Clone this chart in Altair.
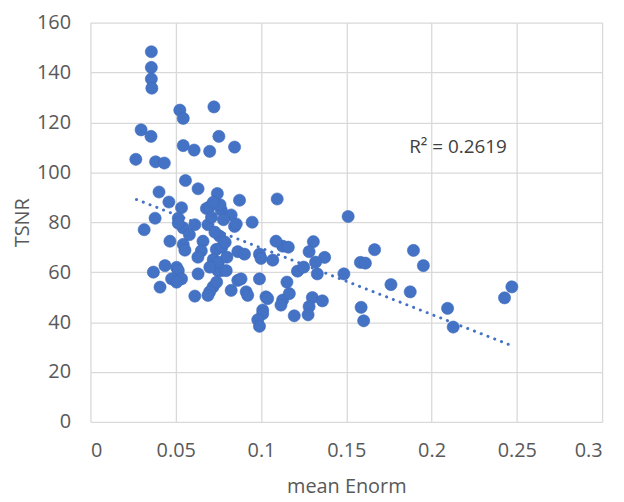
import altair as alt
import pandas as pd

enorm = [0.0357, 0.0357, 0.0357, 0.036, 0.0524, 0.0544, 0.0724, 0.0297, 0.0355, 0.0544, 0.0608, 0.0699,
         0.0753, 0.0845, 0.0266, 0.0382, 0.0433, 0.0557, 0.0631, 0.0402, 0.0744, 0.0874, 0.1095, 0.046,
         0.0534, 0.068, 0.0767, 0.0699, 0.0825, 0.0379, 0.0515, 0.0315, 0.0544, 0.0515, 0.0948, 0.0612,
         0.0689, 0.0845, 0.0855, 0.0466, 0.0544, 0.0554, 0.066, 0.0758, 0.0738, 0.065, 0.0864, 0.0903,
         0.0991, 0.1069, 0.1127, 0.1088, 0.0369, 0.0437, 0.0505, 0.0515, 0.0476, 0.0534, 0.0505, 0.0408,
         0.0767, 0.0631, 0.0748, 0.0796, 0.0864, 0.0883, 0.0991, 0.0719, 0.0825, 0.0913, 0.0699, 0.0612,
         0.0689, 0.0922, 0.1029, 0.1039, 0.1127, 0.101, 0.101, 0.0981, 0.0991,
         0.072, 0.075, 0.073, 0.078, 0.071, 0.077, 0.074, 0.08, 0.079, 0.063, 0.058, 0.07, 0.076, 0.072,
         0.1511, 0.116, 0.1307, 0.1282, 0.1373, 0.1666, 0.1894, 0.1952, 0.1583, 0.1612, 0.1214, 0.133,
         0.1486, 0.1152, 0.1762, 0.1875, 0.1166, 0.1301, 0.136, 0.1117, 0.1282, 0.1587, 0.2094, 0.1195,
         0.1276, 0.1602, 0.2127, 0.2428, 0.2471, 0.1, 0.125, 0.132]
tsnr = [148.3, 142, 137.4, 133.7, 124.9, 121.6, 126.2, 117, 114.4, 110.7, 108.9, 108.4,
        114.4, 110.1, 105.2, 104.2, 103.7, 96.7, 93.4, 92.1, 91.5, 88.8, 89.3, 88.1,
        85.8, 85.5, 84.9, 86.2, 82.9, 81.6, 81.6, 77, 77.7, 79.6, 80, 79,
        79, 78.3, 79.3, 72.4, 71.1, 68.8, 72.4, 74.4, 69.1, 68.5, 68.2, 67.2,
        67.2, 64.8, 70.4, 72.4, 60, 62.6, 61.9, 60.6, 57.3, 57.3, 56, 54,
        60.6, 59.3, 60.6, 60.6, 56.7, 57.3, 57.3, 54.1, 52.7, 52.1, 52.1, 50.4,
        50.7, 50.7, 50.1, 49.4, 48.8, 44.8, 43.3, 40.9, 38.3,
        65, 64, 76, 81, 82, 70, 56, 66, 72, 66, 75, 62, 87, 88,
        82.3, 70, 72.2, 68.2, 65.9, 69, 68.7, 62.6, 63.9, 63.6, 60.4, 59.3,
        59.3, 56, 55, 52.1, 51.4, 49.8, 48.5, 46.8, 46.2, 45.9, 45.5, 42.5,
        42.9, 40.5, 38, 49.7, 54.1, 65.5, 62, 64]

x_ticks = [0, 0.05, 0.1, 0.15, 0.2, 0.25, 0.3]
y_ticks = [0, 20, 40, 60, 80, 100, 120, 140, 160]
trend_extent = [0.027, 0.247]
r2_label = ["R² = 0.2619"]
r2_pos_x = [0.2155]
r2_pos_y = [110.0]

df = pd.DataFrame({"x": enorm, "y": tsnr})
lab = pd.DataFrame({"x": r2_pos_x, "y": r2_pos_y, "t": r2_label})

FONT = "Open Sans"
GREY = "#595959"
BLUE = "#4472C4"

xs = alt.Scale(domain=[0, 0.3], nice=False)
ys = alt.Scale(domain=[0, 160], nice=False)

xax = alt.Axis(values=x_ticks, format="~g", title="mean Enorm", grid=True, domain=False, ticks=False,
               labelPadding=19, titlePadding=16, labelFontSize=20, titleFontSize=20,
               labelColor=GREY, titleColor=GREY, labelFont=FONT, titleFont=FONT,
               titleFontWeight="normal", gridColor="#d9d9d9", gridWidth=1.3)
yax = alt.Axis(values=y_ticks, title="TSNR", grid=True, domain=False, ticks=False,
               labelPadding=20, titlePadding=4, labelFontSize=20, titleFontSize=20,
               labelColor=GREY, titleColor=GREY, labelFont=FONT, titleFont=FONT,
               titleFontWeight="normal", gridColor="#d9d9d9", gridWidth=1.3)

pts = alt.Chart(df).mark_circle(size=150, color=BLUE, opacity=1, stroke="#3f6bbd", strokeWidth=0.6).encode(
    x=alt.X("x:Q", scale=xs, axis=xax),
    y=alt.Y("y:Q", scale=ys, axis=yax),
)

trend = alt.Chart(df).transform_regression("x", "y", extent=trend_extent).mark_line(
    color=BLUE, strokeWidth=3, strokeDash=[0.1, 7.2], strokeCap="round"
).encode(x=alt.X("x:Q", scale=xs), y=alt.Y("y:Q", scale=ys))

txt = alt.Chart(lab).mark_text(fontSize=19, font=FONT, color="#404040").encode(
    x=alt.X("x:Q", scale=xs), y=alt.Y("y:Q", scale=ys), text="t:N"
)

chart = alt.layer(pts, trend, txt).properties(
    width=515, height=402,
    autosize=alt.AutoSizeParams(type="none"),
    padding={"left": 83, "top": 13, "right": 14, "bottom": 79},
).configure_view(stroke=None)

chart.save("out.html", embed_options={"renderer": "svg", "actions": False})
